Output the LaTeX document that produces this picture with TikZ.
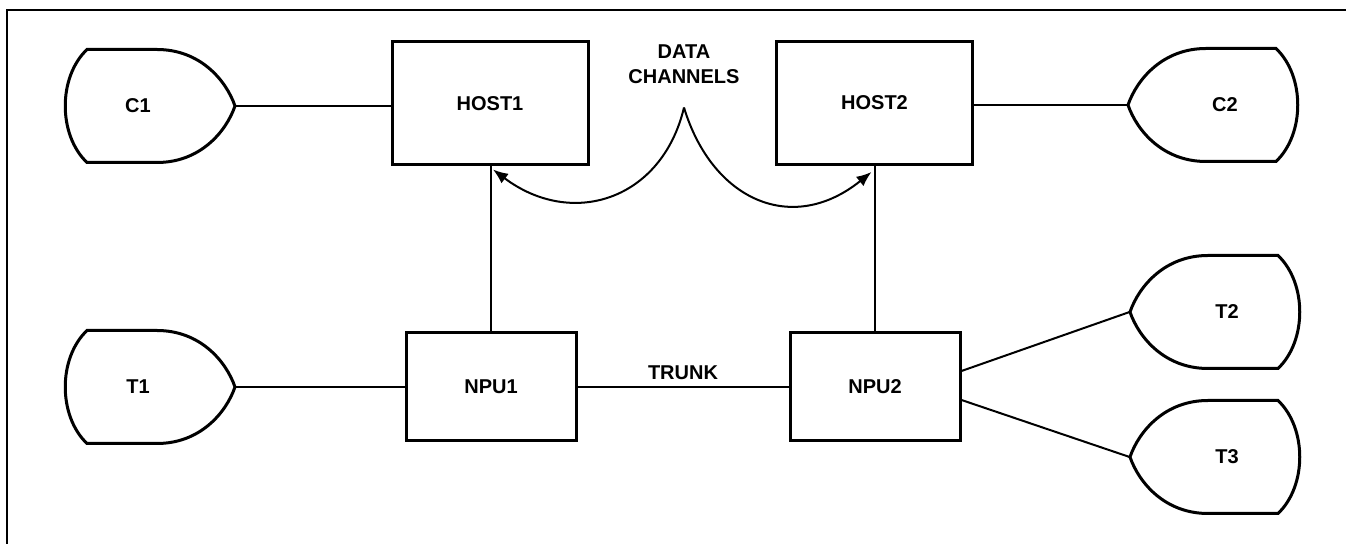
\documentclass[tikz,border=0pt]{standalone}
\usepackage{fontspec}
\setmainfont{Liberation Sans}
\usetikzlibrary{arrows.meta}

\tikzset{
  outline/.style={line width=1.5pt},
  unit/.style={draw, line width=1.5pt, minimum width=98pt, minimum height=61.5pt, inner sep=0pt},
  npu/.style={unit, minimum width=85pt, minimum height=54pt},
  link/.style={line width=1pt},
  term/.pic={
    \draw[outline] (-31.5pt,28.25pt) -- (3.5pt,28.25pt)
      .. controls (25pt,28.25pt) and (38pt,13pt) .. (42.5pt,0pt)
      .. controls (38pt,-13pt) and (25pt,-28.25pt) .. (3.5pt,-28.25pt)
      -- (-31.5pt,-28.25pt)
      .. controls (-46pt,-14.5pt) and (-46pt,14.5pt) .. cycle;
    \node[minimum width=85pt, minimum height=56.5pt, inner sep=0pt] (-box) at (0pt,0pt) {};
    \node (-text) at (-6pt,0pt) {#1};
  }
}

\begin{document}
\begin{tikzpicture}[x=0.5pt,y=-0.5pt,font=\fontsize{10}{12.5}\selectfont\bfseries]
\useasboundingbox (0,0) rectangle (1346,544);

% frame
\draw[link] (7,544) -- (7,10) -- (1346,10);

% hosts and npus
\node[unit] (host1) at (490,103.5) {HOST1};
\node[unit] (host2) at (874.5,103) {HOST2};
\node[npu] (npu1) at (491,387) {NPU1};
\node[npu] (npu2) at (875,387) {NPU2};

% terminals
\pic (c1) at (150,106) {term=C1};
\pic (t1) at (150,387) {term=T1};
\pic[xscale=-1] (c2) at (1213,105) {term=C2};
\pic[xscale=-1] (t2) at (1215,312) {term=T2};
\pic[xscale=-1] (t3) at (1215,457) {term=T3};

\draw[link] (c1-box.east) -- (c1-box.east -| host1.west);
\draw[link] (t1-box.east) -- (t1-box.east -| npu1.west);
\draw[link] (c2-box.west -| host2.east) -- (c2-box.west);
\draw[link] (npu1.north) -- (npu1.north |- host1.south);
\draw[link] (npu2.north) -- (npu2.north |- host2.south);
\draw[link] (npu1.east) -- node[above] {TRUNK} (npu2.west);
\draw[link] ([yshift=8pt]npu2.east) -- (t2-box.west);
\draw[link] ([yshift=-6.5pt]npu2.east) -- (t3-box.west);

% data channels
\node[align=center] (chan) at (684,64) {DATA\\CHANNELS};
\coordinate (cusp) at ([yshift=-8.5pt]chan.south);
\coordinate (h1in) at ([xshift=1.5pt,yshift=-1.5pt]host1.south);
\coordinate (h2in) at ([xshift=-1.5pt,yshift=-3pt]host2.south);
\draw[link,-{Latex[length=7.5pt,width=6pt]}] (cusp) .. controls (662,200) and (572,229) .. (h1in);
\draw[link,-{Latex[length=7.5pt,width=6pt]}] (cusp) .. controls (712,200) and (792,236) .. (h2in);

\end{tikzpicture}
\end{document}
